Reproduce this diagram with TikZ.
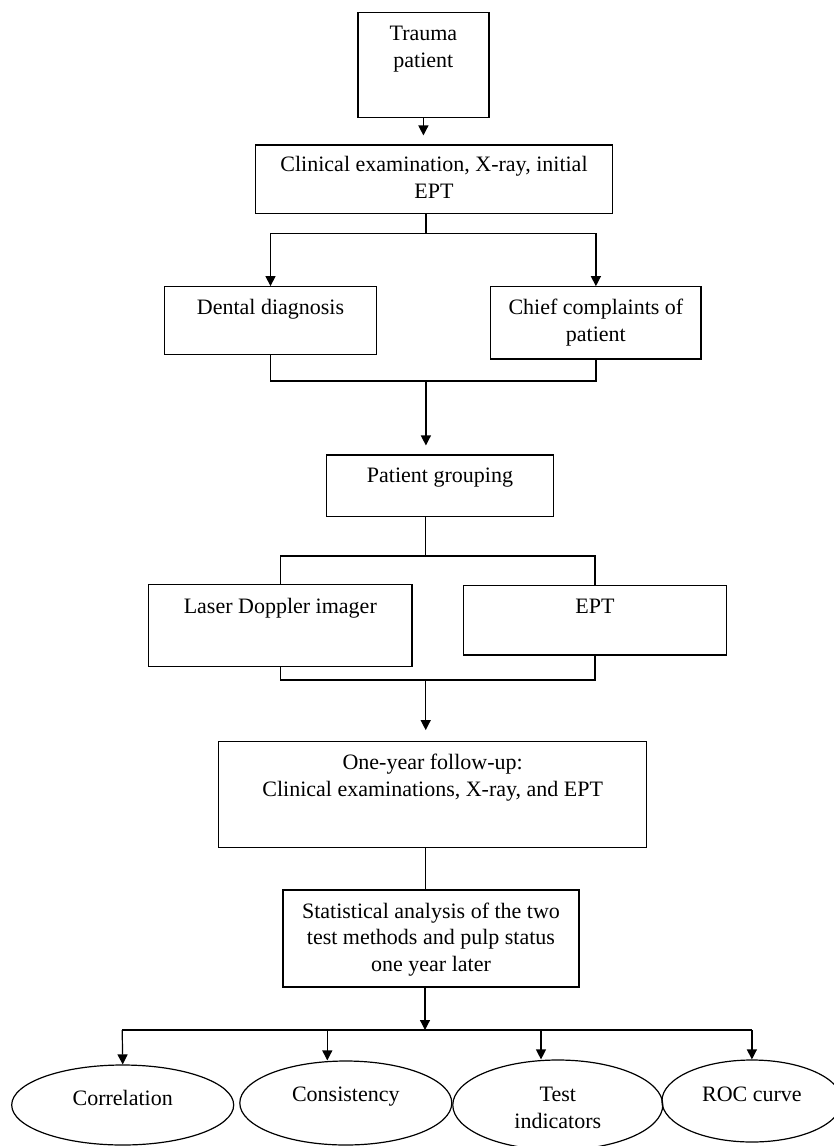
\documentclass[tikz,border=0pt]{standalone}
\usepackage{fontspec}
\setmainfont{Liberation Serif}
\usetikzlibrary{arrows.meta,shapes.geometric}

\begin{document}
\begin{tikzpicture}[x=1pt,y=-1pt,
    box/.style={draw,line width=1.2pt,inner sep=0pt},
    oval/.style={draw,ellipse,line width=1.2pt,inner sep=0pt},
    txt/.style={anchor=north,align=center,inner sep=0pt,font=\fontsize{22}{26.7}\selectfont},
    >={Triangle[length=10pt,width=10pt]}]
  \useasboundingbox (0,0) rectangle (833,1146);
  % boxes
  \node[box,minimum width=131pt,minimum height=105pt] (trauma) at (423.4,65.2) {};
  \node[box,minimum width=357pt,minimum height=68.7pt] (clin) at (434,179.4) {};
  \node[box,minimum width=211.3pt,minimum height=67.6pt] (dental) at (270.5,320.5) {};
  \node[box,minimum width=210.3pt,minimum height=72.3pt] (chief) at (595.9,322.9) {};
  \node[box,minimum width=226.4pt,minimum height=61.7pt] (group) at (440,485.9) {};
  \node[box,minimum width=263.4pt,minimum height=82.4pt] (laser) at (280.3,625.5) {};
  \node[box,minimum width=263.4pt,minimum height=69.7pt] (ept) at (595,620.2) {};
  \node[box,minimum width=428pt,minimum height=105.6pt] (follow) at (432.7,794.5) {};
  \node[box,minimum width=296pt,minimum height=97pt] (stat) at (431,938.5) {};
  \node[oval,minimum width=222pt,minimum height=80pt] (corr) at (122.7,1105) {};
  \node[oval,minimum width=212pt,minimum height=84pt] (cons) at (345.8,1103) {};
  \node[oval,minimum width=210pt,minimum height=90pt] (test) at (557.8,1105) {};
  \node[oval,minimum width=180pt,minimum height=82pt] (roc) at (751.9,1101) {};
  % texts
  \node[txt] (traumatxt) at ([yshift=-14pt]trauma.north) {Trauma\\patient};
  \node[txt] (clintxt) at ([yshift=-12pt]clin.north) {Clinical examination, X-ray, initial\\EPT};
  \node[txt] (dentaltxt) at ([yshift=-13pt]dental.north) {Dental diagnosis};
  \node[txt] (chieftxt) at ([yshift=-13pt]chief.north) {Chief complaints of\\patient};
  \node[txt] (grouptxt) at ([yshift=-13pt]group.north) {Patient grouping};
  \node[txt] (lasertxt) at ([yshift=-14pt]laser.north) {Laser Doppler imager};
  \node[txt] (epttxt) at ([yshift=-14pt]ept.north) {EPT};
  \node[txt] (followtxt) at ([yshift=-13pt]follow.north) {One-year follow-up:\\Clinical examinations, X-ray, and EPT};
  \node[txt] (stattxt) at ([yshift=-13pt]stat.north) {Statistical analysis of the two\\test methods and pulp status\\one year later};
  \node[txt] (corrtxt) at ([yshift=15pt]corr.center) {Correlation};
  \node[txt] (constxt) at ([yshift=16pt]cons.center) {Consistency};
  \node[txt] (testtxt) at ([yshift=18pt]test.center) {Test\\indicators};
  \node[txt] (roctxt) at ([yshift=14pt]roc.center) {ROC curve};
  % junctions
  \coordinate (split1) at (425.9,233.3);
  \coordinate (merge1) at (425.9,381);
  \coordinate (split2) at (425.7,556);
  \coordinate (merge2) at (425.7,680);
  \coordinate (split3) at (425,1030);
  \coordinate (b1) at (122.2,1030);
  \coordinate (b2) at (327.3,1030);
  \coordinate (b3) at (541,1030);
  \coordinate (b4) at (751.9,1030);
  \begin{scope}[line width=1.2pt]
    \draw[->,shorten >=9pt] (trauma.south) -- (trauma.south |- clin.north);
    \draw (clin.south -| split1) -- (split1);
    \draw[->] (split1) -| (dental.north);
    \draw[->] (split1) -| (chief.north);
    \draw (dental.south) |- (merge1);
    \draw (chief.south) |- (merge1);
    \draw[->,shorten >=9pt] (merge1) -- (merge1 |- group.north);
    \draw (group.south -| split2) -- (split2);
    \draw (split2) -| (laser.north);
    \draw (split2) -| (ept.north);
    \draw (laser.south) |- (merge2);
    \draw (ept.south) |- (merge2);
    \draw[->,shorten >=11pt] (merge2) -- (merge2 |- follow.north);
    \draw (merge2 |- follow.south) -- (merge2 |- stat.north);
    \draw[->] (split3 |- stat.south) -- (split3);
    \draw (b1) -- (b4);
    \draw[->] (b1) -- (corr.north);
    \draw[->] (b2) -- (b2 |- cons.north);
    \draw[->] (b3) -- (b3 |- test.north);
    \draw[->] (b4) -- (roc.north);
  \end{scope}
\end{tikzpicture}
\end{document}
